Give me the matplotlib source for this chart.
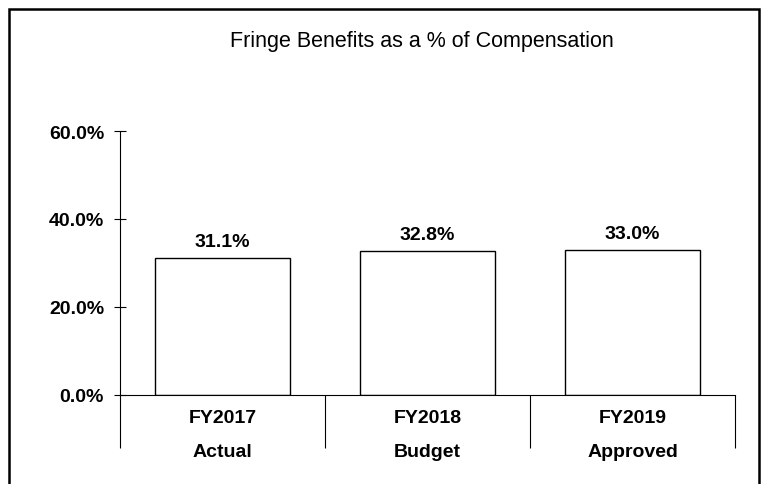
import matplotlib
matplotlib.use('Agg')
import matplotlib.pyplot as plt
from matplotlib.patches import Rectangle

years = ['FY2017', 'FY2018', 'FY2019']
kinds = ['Actual', 'Budget', 'Approved']
pct = [31.1, 32.8, 33.0]
yticks = [0, 20, 40, 60]

plt.rcParams['font.family'] = ['Liberation Sans', 'DejaVu Sans']

W, H = 764, 485
fig = plt.figure(figsize=(W / 100, H / 100), dpi=100)
ax = fig.add_axes([120 / W, (H - 396) / H, (735 - 120) / W, (396 - 132) / H])

x = range(len(pct))
ax.bar(x, pct, width=0.66, color='white', edgecolor='black', linewidth=1.0)
for i, v in enumerate(pct):
    ax.text(i, v + 2.7, f'{v:.1f}%', ha='center', va='baseline',
            fontsize=14, fontweight='bold')

ax.set_xlim(-0.5, len(pct) - 0.5)
ax.set_ylim(0, 60)
ax.set_yticks(yticks)
ax.set_yticklabels([f'{t:.1f}%' for t in yticks], fontsize=14, fontweight='bold')
ax.tick_params(axis='y', direction='inout', length=9, width=0.8, pad=7)

# category separators as long major ticks, labels on minor ticks
ax.set_xticks([i - 0.5 for i in range(len(pct) + 1)])
ax.set_xticklabels([])
ax.tick_params(axis='x', which='major', direction='out', length=38, width=0.8)
ax.set_xticks(list(x), minor=True)
ax.set_xticklabels([f'{y}\n{k}' for y, k in zip(years, kinds)], minor=True,
                   fontsize=14, fontweight='bold', linespacing=2.3)
ax.tick_params(axis='x', which='minor', length=0, pad=10)

for s in ['top', 'right']:
    ax.spines[s].set_visible(False)
ax.spines['left'].set_linewidth(0.8)
ax.spines['bottom'].set_linewidth(0.8)

fig.text(422 / W, 1 - 47 / H, 'Fringe Benefits as a % of Compensation',
         ha='center', va='baseline', fontsize=15.5)

fig.patches.append(Rectangle((9 / W, -0.1), (759 - 9) / W, 1.1 - 10 / H,
                             transform=fig.transFigure, fill=False,
                             edgecolor='black', linewidth=1.8))

fig.savefig('out.png', dpi=100, facecolor='white')
